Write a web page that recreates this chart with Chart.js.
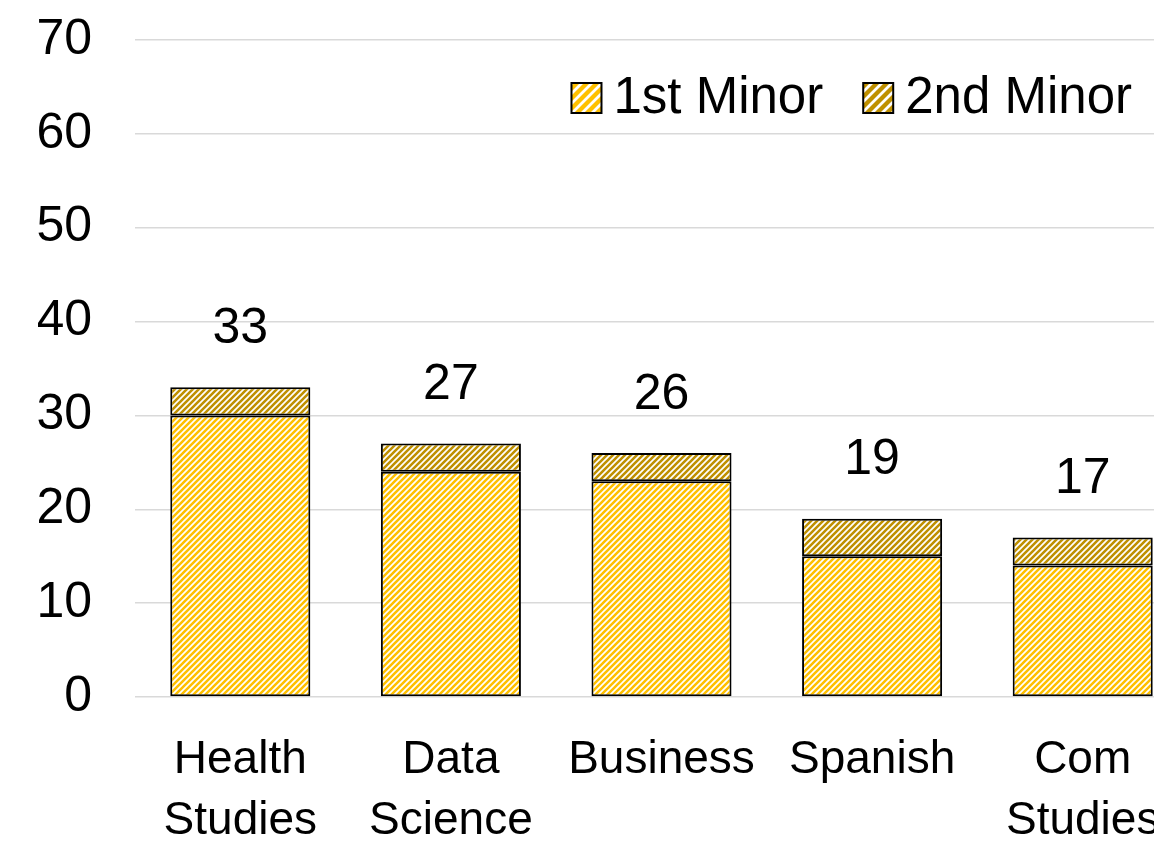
<!DOCTYPE html>
<html>
<head>
<meta charset="utf-8">
<script src="https://cdn.jsdelivr.net/npm/chart.js@4/dist/chart.umd.min.js"></script>
<style>
  html, body { margin: 0; padding: 0; background: #fff; overflow: hidden; }
  #wrap { width: 1154px; height: 844px; overflow: hidden; }
</style>
</head>
<body>
<div id="wrap"><canvas id="chart" width="1190" height="844"></canvas></div>
<script>
// data
var categories = [['Health', 'Studies'], ['Data', 'Science'], 'Business', 'Spanish', ['Com', 'Studies']];
var firstMinor = [30, 24, 23, 15, 14];
var secondMinor = [3, 3, 3, 4, 3];
var yTicksMax = 70;
var yTicksStep = 10;

var FONT = 'Liberation Sans, Arial, sans-serif';
var colors = ['#FFC000', '#BF9000'];

// hatch pattern, stripes going up to the right
function makeHatch(color, size) {
  var c = document.createElement('canvas');
  c.width = size; c.height = size;
  var g = c.getContext('2d');
  g.fillStyle = '#ffffff';
  g.fillRect(0, 0, size, size);
  g.strokeStyle = color;
  g.lineWidth = size * 0.43;
  g.beginPath();
  g.moveTo(0, size); g.lineTo(size, 0);
  g.moveTo(-size / 2, size / 2); g.lineTo(size / 2, -size / 2);
  g.moveTo(size / 2, size * 1.5); g.lineTo(size * 1.5, size / 2);
  g.stroke();
  return g.createPattern(c, 'repeat');
}

var hatch1 = makeHatch(colors[0], 6);
var hatch2 = makeHatch(colors[1], 6);
var legendHatch = [makeHatch(colors[0], 10), makeHatch(colors[1], 10)];

// totals above bars
var totalsPlugin = {
  id: 'totals',
  afterDatasetsDraw: function (chart) {
    var ctx = chart.ctx;
    var meta = chart.getDatasetMeta(0);
    var yScale = chart.scales.y;
    ctx.save();
    ctx.font = '50px ' + FONT;
    ctx.fillStyle = '#000';
    ctx.textAlign = 'center';
    ctx.textBaseline = 'middle';
    meta.data.forEach(function (bar, i) {
      var total = firstMinor[i] + secondMinor[i];
      ctx.fillText(String(total), bar.x, yScale.getPixelForValue(total) - 58);
    });
    ctx.restore();
  }
};

// legend drawn inside the plot, top right
var legendPlugin = {
  id: 'innerLegend',
  afterDraw: function (chart) {
    var ctx = chart.ctx;
    var area = chart.chartArea;
    var items = chart.data.datasets;
    var box = 30;
    var gap = 12;
    var itemGap = 40;
    var y = 98;
    ctx.save();
    ctx.font = '51px ' + FONT;
    ctx.textBaseline = 'middle';
    var widths = items.map(function (d) { return box + gap + ctx.measureText(d.label).width; });
    var total = widths.reduce(function (a, b) { return a + b; }, 0) + itemGap * (items.length - 1);
    var x = area.right - 56 - total;
    items.forEach(function (d, i) {
      ctx.fillStyle = legendHatch[i];
      ctx.fillRect(x, y - box / 2, box, box);
      ctx.strokeStyle = '#000';
      ctx.lineWidth = 2;
      ctx.strokeRect(x, y - box / 2, box, box);
      ctx.fillStyle = '#000';
      ctx.fillText(d.label, x + box + gap, y + 1);
      x += widths[i] + itemGap;
    });
    ctx.restore();
  }
};

var ctx = document.getElementById('chart').getContext('2d');
var myChart = new Chart(ctx, {
  type: 'bar',
  data: {
    labels: categories,
    datasets: [{
      label: '1st Minor',
      data: firstMinor,
      backgroundColor: hatch1,
      borderColor: '#000',
      borderWidth: 2,
      borderSkipped: false,
      barPercentage: 0.665,
      categoryPercentage: 1
    }, {
      label: '2nd Minor',
      data: secondMinor,
      backgroundColor: hatch2,
      borderColor: '#000',
      borderWidth: 2,
      borderSkipped: false,
      barPercentage: 0.665,
      categoryPercentage: 1
    }]
  },
  options: {
    responsive: false,
    animation: false,
    layout: { padding: { left: 38, top: 40, right: 2, bottom: 0 } },
    plugins: {
      legend: { display: false },
      tooltip: { enabled: false }
    },
    scales: {
      x: {
        stacked: true,
        grid: { display: false },
        border: { display: false },
        ticks: {
          color: '#000',
          padding: 25,
          maxRotation: 0,
          autoSkip: false,
          font: { family: FONT, size: 46, lineHeight: 1.32 }
        },
        afterFit: function (scale) {
          scale.height = 147;
          scale.paddingLeft = 0;
          scale.paddingRight = 0;
        }
      },
      y: {
        stacked: true,
        min: 0,
        max: yTicksMax,
        grid: { color: '#d9d9d9', lineWidth: 1.5, drawTicks: false },
        border: { display: false },
        ticks: {
          stepSize: yTicksStep,
          color: '#000',
          padding: 43,
          font: { family: FONT, size: 50 }
        },
        afterFit: function (scale) {
          scale.width = 97;
          scale.paddingTop = 0;
          scale.paddingBottom = 0;
        }
      }
    }
  },
  plugins: [totalsPlugin, legendPlugin]
});
</script>
</body>
</html>
